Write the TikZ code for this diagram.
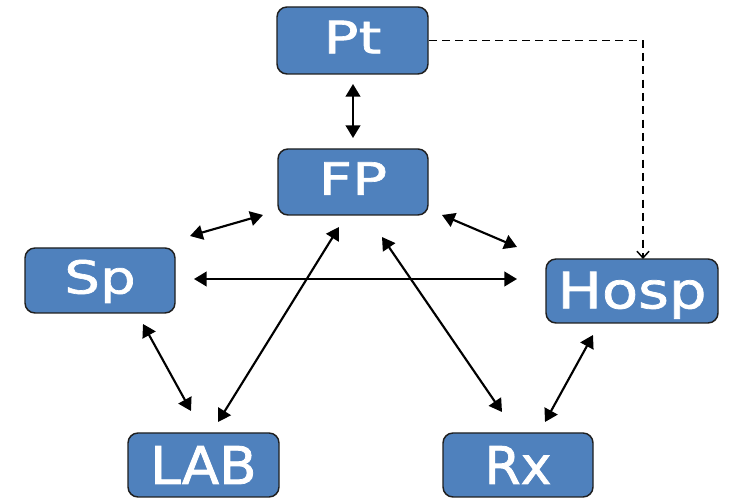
\documentclass[tikz,border=0pt]{standalone}
\usepackage{fontspec}
% one family per box width, the box labels are set wide and heavy
\newfontfamily\ptfont[FakeStretch=1.3,FakeBold=1.5]{DejaVu Sans}
\newfontfamily\spfont[FakeStretch=1.24,FakeBold=1.5]{DejaVu Sans}
\newfontfamily\hospfont[FakeStretch=1.18,FakeBold=1.5]{DejaVu Sans}
\newfontfamily\labfont[FakeStretch=1.05,FakeBold=1.5]{DejaVu Sans}
\newfontfamily\rxfont[FakeBold=1.5]{DejaVu Sans}
\usetikzlibrary{arrows.meta}
\definecolor{boxblue}{HTML}{4F81BD}
\definecolor{boxline}{HTML}{1F1F1F}

\begin{document}
\begin{tikzpicture}[x=0.75pt,y=-0.75pt,
  unit/.style={draw=boxline, line width=1.1pt, fill=boxblue, rounded corners=7.5pt,
    text=white, inner sep=0pt, minimum width=112.5pt, minimum height=49.5pt},
  link/.style={line width=1.6pt,
    {Triangle[length=9.5pt,width=11pt]}-{Triangle[length=9.5pt,width=11pt]}},
  refer/.style={line width=1.1pt, dash pattern=on 6pt off 4pt,
    -{Straight Barb[length=5pt,width=9pt]}}]

\useasboundingbox (0,0) rectangle (732,498);

% boxes
\node[unit, minimum width=113.25pt, minimum height=50.25pt, text height=24.5pt, text depth=5.25pt,
  font=\ptfont\fontsize{33.5}{40}\selectfont] (Pt) at (352.5,40.5) {Pt};
\node[unit, minimum width=112.5pt, minimum height=49.5pt, text height=24.5pt, text depth=5.25pt,
  font=\ptfont\fontsize{33.5}{40}\selectfont] (FP) at (353,182) {FP};
\node[unit, minimum width=112.5pt, minimum height=48.75pt, text height=24.75pt, text depth=5.25pt,
  font=\spfont\fontsize{34}{40}\selectfont] (Sp) at (100,280.5) {Sp};
\node[unit, minimum width=129pt, minimum height=48pt, text height=27.5pt, text depth=1.5pt,
  font=\hospfont\fontsize{37.6}{44}\selectfont] (Hosp) at (632,291) {Hosp};
\node[unit, minimum width=113.25pt, minimum height=48pt, text height=28.5pt, text depth=0pt,
  font=\labfont\fontsize{39}{46}\selectfont] (LAB) at (203.5,465) {LAB};
\node[unit, minimum width=112.5pt, minimum height=48pt, text height=28.5pt, text depth=0pt,
  font=\rxfont\fontsize{39}{46}\selectfont] (Rx) at (518,465) {Rx};

% arrow end points
\coordinate (PtLow) at (353,84);
\coordinate (FPtop) at (353,138);
\coordinate (SpUp) at (190,236);
\coordinate (FPleft) at (263,215);
\coordinate (FPright) at (442,215);
\coordinate (HospUp) at (517,247);
\coordinate (SpSide) at (194,279);
\coordinate (HospSide) at (517,279);
\coordinate (LABtip) at (218,422);
\coordinate (FPlow) at (339,227);
\coordinate (FPlowR) at (382,237);
\coordinate (RxTip) at (502,412);
\coordinate (SpLow) at (143,324);
\coordinate (LABleft) at (191,411);
\coordinate (HospLow) at (593,335);
\coordinate (RxRight) at (545,422);
\coordinate (HospIn) at (643,259);

% connectors
\draw[link] (PtLow) -- (FPtop);
\draw[link] (SpUp) -- (FPleft);
\draw[link] (FPright) -- (HospUp);
\draw[link] (SpSide) -- (HospSide);
\draw[link] (LABtip) -- (FPlow);
\draw[link] (FPlowR) -- (RxTip);
\draw[link] (SpLow) -- (LABleft);
\draw[link] (HospLow) -- (RxRight);
\draw[refer] (Pt.east) -| (HospIn);
\end{tikzpicture}
\end{document}
